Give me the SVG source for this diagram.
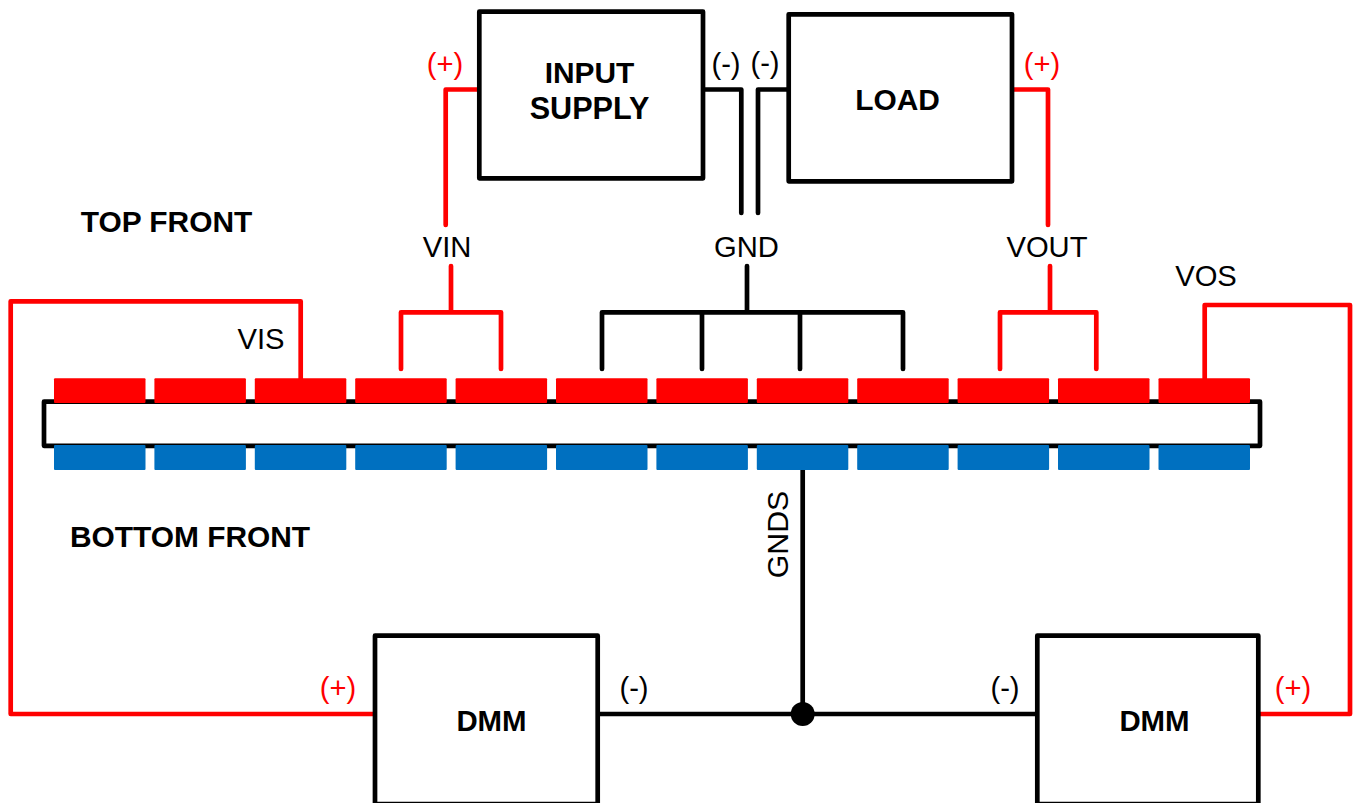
<svg xmlns="http://www.w3.org/2000/svg" width="1354" height="803" viewBox="0 0 1354 803">
<style>
.box{fill:#fff;stroke:#000;stroke-width:4.7;stroke-linejoin:round}
.r{fill:none;stroke:#f00;stroke-width:4.7;stroke-linejoin:round;stroke-linecap:round}
.k{fill:none;stroke:#000;stroke-width:4.7;stroke-linejoin:round;stroke-linecap:round}
.t{fill:#ff0000}
.b{fill:#0070c0}
text{font-family:"Liberation Sans",Arial,sans-serif;font-size:29.2px;text-anchor:middle}
.h{font-weight:bold;font-size:29.9px}
.red{fill:#f00}
</style>
<rect width="1354" height="803" fill="#fff"/>
<g id="connectors">
<path class="r" d="M481 89.5H445.7V225"/>
<path class="k" d="M703 89.5H741.3V213"/>
<path class="k" d="M789 89.5H758V213"/>
<path class="r" d="M1012 89.5H1048V225"/>
<path class="r" d="M451 266V312.3M401 369V312.3H501V369"/>
<path class="k" d="M747 266V312.3M602 369V312.3H903V369M702 312.3V369M800 312.3V369"/>
<path class="r" d="M1050 266V312.3M1000 369V312.3H1096.3V369"/>
<path class="r" d="M300.7 379V301.3H10.7V714H375"/>
<path class="r" d="M1204.7 379V305H1350V714H1258"/>
<path class="k" d="M802.7 468V714M598 714H1037"/>
<circle cx="802.7" cy="714" r="12" fill="#000"/>
</g>
<g id="board"><rect class="box" x="44" y="401.7" width="1216" height="44.1"/></g>
<g id="pads-top">
<rect class="t" x="54" y="378.3" width="91.5" height="24.7" rx="1"/><rect class="t" x="154.4" y="378.3" width="91.5" height="24.7" rx="1"/><rect class="t" x="254.8" y="378.3" width="91.5" height="24.7" rx="1"/><rect class="t" x="355.2" y="378.3" width="91.5" height="24.7" rx="1"/><rect class="t" x="455.6" y="378.3" width="91.5" height="24.7" rx="1"/><rect class="t" x="556" y="378.3" width="91.5" height="24.7" rx="1"/><rect class="t" x="656.4" y="378.3" width="91.5" height="24.7" rx="1"/><rect class="t" x="756.8" y="378.3" width="91.5" height="24.7" rx="1"/><rect class="t" x="857.2" y="378.3" width="91.5" height="24.7" rx="1"/><rect class="t" x="957.6" y="378.3" width="91.5" height="24.7" rx="1"/><rect class="t" x="1058" y="378.3" width="91.5" height="24.7" rx="1"/><rect class="t" x="1158.5" y="378.3" width="91.5" height="24.7" rx="1"/>
</g>
<g id="pads-bottom">
<rect class="b" x="54" y="445" width="91.5" height="25" rx="1"/><rect class="b" x="154.4" y="445" width="91.5" height="25" rx="1"/><rect class="b" x="254.8" y="445" width="91.5" height="25" rx="1"/><rect class="b" x="355.2" y="445" width="91.5" height="25" rx="1"/><rect class="b" x="455.6" y="445" width="91.5" height="25" rx="1"/><rect class="b" x="556" y="445" width="91.5" height="25" rx="1"/><rect class="b" x="656.4" y="445" width="91.5" height="25" rx="1"/><rect class="b" x="756.8" y="445" width="91.5" height="25" rx="1"/><rect class="b" x="857.2" y="445" width="91.5" height="25" rx="1"/><rect class="b" x="957.6" y="445" width="91.5" height="25" rx="1"/><rect class="b" x="1058" y="445" width="91.5" height="25" rx="1"/><rect class="b" x="1158.5" y="445" width="91.5" height="25" rx="1"/>
</g>
<g id="input-supply"><rect class="box" x="479.3" y="11.7" width="223.7" height="166.6"/><text class="h" x="589.5" y="83">INPUT</text><text class="h" x="589.5" y="119" style="font-size:30.6px">SUPPLY</text></g>
<g id="load"><rect class="box" x="788.7" y="14.3" width="223.3" height="167"/><text class="h" x="897.5" y="110">LOAD</text></g>
<g id="dmm-left"><rect class="box" x="375" y="635.7" width="222.7" height="168.3"/><text class="h" x="491.5" y="731" style="font-size:29.4px">DMM</text></g>
<g id="dmm-right"><rect class="box" x="1037.3" y="635.7" width="221" height="168.3"/><text class="h" x="1154.5" y="731" style="font-size:29.4px">DMM</text></g>
<g id="labels">
<text class="h" x="166.5" y="232">TOP FRONT</text>
<text class="h" x="190" y="547">BOTTOM FRONT</text>
<text x="447" y="257">VIN</text><text x="746.5" y="257">GND</text><text x="1047" y="257">VOUT</text><text x="1206" y="286">VOS</text><text x="261" y="349">VIS</text>
<text transform="translate(788 534.5) rotate(-90)" style="font-size:30.3px">GNDS</text>
<text class="red" x="445" y="74">(+)</text><text class="red" x="1042" y="74">(+)</text><text class="red" x="338" y="698">(+)</text><text class="red" x="1293" y="698">(+)</text>
<text x="726" y="74">(-)</text><text x="765" y="73">(-)</text><text x="634" y="698">(-)</text><text x="1005" y="698">(-)</text>
</g>
</svg>
